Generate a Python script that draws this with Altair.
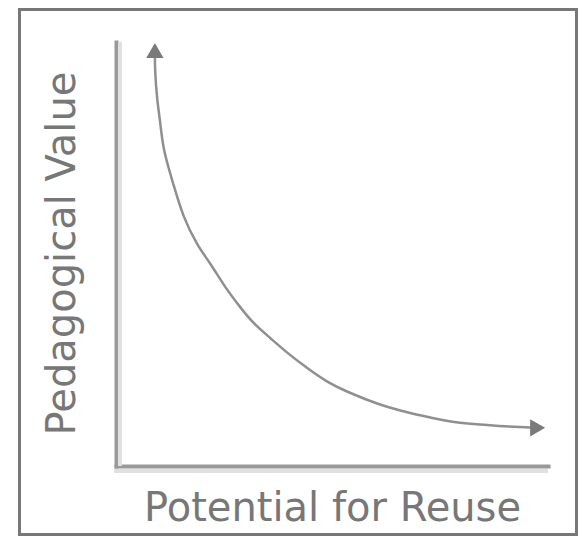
import altair as alt
import pandas as pd

# Curve (axis units 0..10 on both axes)
curve_x = [0.90, 0.90, 0.95, 1.02, 1.09, 1.32, 1.55, 1.90, 2.18, 2.52, 2.87, 3.17,
           3.57, 3.96, 4.42, 4.88, 5.35, 5.81, 6.27, 6.88, 7.34, 7.89, 8.89, 9.75]
curve_y = [9.76, 9.34, 8.63, 8.16, 7.45, 6.68, 5.87, 5.17, 4.79, 4.22, 3.75, 3.37,
           3.02, 2.67, 2.31, 1.98, 1.75, 1.56, 1.39, 1.23, 1.13, 1.01, 0.94, 0.90]

# Arrowheads at both ends
arrow_x = [0.90, 9.76]
arrow_y = [9.80, 0.90]
arrow_shape = ["triangle-up", "triangle-right"]

x_title = "Potential for Reuse"
y_title = "Pedagogical Value"

curve_df = pd.DataFrame({"x": curve_x, "y": curve_y, "order": list(range(len(curve_x)))})
arrow_df = pd.DataFrame({"x": arrow_x, "y": arrow_y, "shape": arrow_shape})
frame_df = pd.DataFrame({"a": [0]})

FONT = "DejaVu Sans"
TXT = "#777777"

xscale = alt.Scale(domain=[0, 10], nice=False, zero=False)
yscale = alt.Scale(domain=[0, 10], nice=False, zero=False)

xaxis = alt.Axis(title=x_title, grid=False, ticks=False, labels=False,
                 domainColor="#999999", domainWidth=4, domainCap="square",
                 titleFont=FONT, titleFontSize=40, titleFontWeight="normal",
                 titleColor=TXT, titleBaseline="alphabetic", titleY=54)
yaxis = alt.Axis(title=y_title, grid=False, ticks=False, labels=False,
                 domainColor="#999999", domainWidth=4, domainCap="square",
                 titleFont=FONT, titleFontSize=40, titleFontWeight="normal",
                 titleColor=TXT, titleBaseline="alphabetic", titleAngle=270,
                 titleAlign="center", titleX=-42, titleY=211)

line = alt.Chart(curve_df).mark_line(color="#8f8f8f", strokeWidth=2.5,
                                     interpolate="basis").encode(
    x=alt.X("x:Q", scale=xscale, axis=xaxis),
    y=alt.Y("y:Q", scale=yscale, axis=yaxis),
    order="order:Q",
)

arrows = alt.Chart(arrow_df).mark_point(filled=True, size=300, color="#7a7a7a",
                                        opacity=1).encode(
    x=alt.X("x:Q", scale=xscale),
    y=alt.Y("y:Q", scale=yscale),
    shape=alt.Shape("shape:N", scale=None),
)

# light shadow next to the axes
shadow_y = alt.Chart(frame_df).mark_rule(color="#e0e0e0", strokeWidth=4).encode(
    x=alt.value(4), y=alt.value(0), y2=alt.value(424))
shadow_x = alt.Chart(frame_df).mark_rule(color="#e0e0e0", strokeWidth=4).encode(
    x=alt.value(-2), x2=alt.value(432), y=alt.value(429))

frame = alt.Chart(frame_df).mark_rect(fillOpacity=0, stroke="#777777",
                                      strokeWidth=3, clip=False).encode(
    x=alt.value(-96.5), x2=alt.value(460.5), y=alt.value(-32.5), y2=alt.value(492.5))

chart = alt.layer(shadow_y, shadow_x, frame, line, arrows).properties(
    width=432, height=424,
    padding={"left": 108, "top": 34, "right": 30, "bottom": 70},
    autosize=alt.AutoSizeParams(type="none"),
    view=alt.ViewBackground(stroke="transparent"),
).configure_view(stroke="transparent").configure(background="white")

chart.save("out.html", embed_options={"renderer": "svg", "actions": False})
